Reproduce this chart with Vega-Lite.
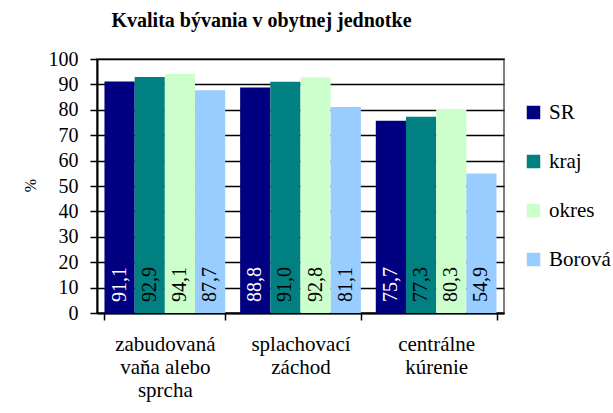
{
  "$schema": "https://vega.github.io/schema/vega-lite/v6.json",
  "autosize": "none",
  "width": 407,
  "height": 254,
  "padding": {"left": 97, "top": 59, "right": 109, "bottom": 100},
  "background": "white",
  "title": {
    "text": "Kvalita bývania v obytnej jednotke",
    "anchor": "middle",
    "dx": -39,
    "offset": 18,
    "font": "Liberation Serif",
    "fontSize": 20,
    "fontWeight": "bold",
    "color": "black"
  },
  "data": {
    "values": [
      {"kategoria": "zabudovaná vaňa alebo sprcha", "typ": "SR", "hodnota": 91.1},
      {"kategoria": "zabudovaná vaňa alebo sprcha", "typ": "kraj", "hodnota": 92.9},
      {"kategoria": "zabudovaná vaňa alebo sprcha", "typ": "okres", "hodnota": 94.1},
      {"kategoria": "zabudovaná vaňa alebo sprcha", "typ": "Borová", "hodnota": 87.7},
      {"kategoria": "splachovací záchod", "typ": "SR", "hodnota": 88.8},
      {"kategoria": "splachovací záchod", "typ": "kraj", "hodnota": 91.0},
      {"kategoria": "splachovací záchod", "typ": "okres", "hodnota": 92.8},
      {"kategoria": "splachovací záchod", "typ": "Borová", "hodnota": 81.1},
      {"kategoria": "centrálne kúrenie", "typ": "SR", "hodnota": 75.7},
      {"kategoria": "centrálne kúrenie", "typ": "kraj", "hodnota": 77.3},
      {"kategoria": "centrálne kúrenie", "typ": "okres", "hodnota": 80.3},
      {"kategoria": "centrálne kúrenie", "typ": "Borová", "hodnota": 54.9}
    ]
  },
  "encoding": {
    "x": {
      "field": "kategoria",
      "type": "nominal",
      "sort": null,
      "scale": {"paddingInner": 0.11, "paddingOuter": 0.055},
      "axis": {
        "title": null,
        "labelAngle": 0,
        "tickBand": "extent",
        "tickSize": 7,
        "tickWidth": 1.5,
        "tickColor": "black",
        "domainColor": "black",
        "domainWidth": 2,
        "labelPadding": 13,
        "labelFont": "Liberation Serif",
        "labelFontSize": 21,
        "labelColor": "black",
        "labelLineHeight": 23,
        "labelBaseline": "top",
        "labelOverlap": false,
        "labelLimit": 200,
        "grid": false,
        "labelExpr": "datum.label == 'zabudovaná vaňa alebo sprcha' ? ['zabudovaná', 'vaňa alebo', 'sprcha'] : datum.label == 'splachovací záchod' ? ['splachovací', 'záchod'] : datum.label == 'centrálne kúrenie' ? ['centrálne', 'kúrenie'] : ''"
      }
    },
    "xOffset": {
      "field": "typ",
      "type": "nominal",
      "sort": ["SR", "kraj", "okres", "Borová"],
      "scale": {"paddingInner": 0, "paddingOuter": 0}
    }
  },
  "layer": [
    {
      "mark": {"type": "bar"},
      "encoding": {
        "y": {
          "field": "hodnota",
          "type": "quantitative",
          "scale": {"domain": [0, 100], "nice": false},
          "axis": {
            "title": "%",
            "titleFont": "Liberation Serif",
            "titleFontSize": 16,
            "titleFontWeight": "normal",
            "titleColor": "black",
            "titleX": -67,
            "titleY": 126,
            "titleAngle": -90,
            "titleAlign": "center",
            "titleBaseline": "middle",
            "values": [0, 10, 20, 30, 40, 50, 60, 70, 80, 90, 100],
            "grid": true,
            "gridColor": "black",
            "gridWidth": 1.5,
            "gridOpacity": 1,
            "tickSize": 7,
            "tickWidth": 1.5,
            "tickColor": "black",
            "domainColor": "black",
            "domainWidth": 2,
            "labelOverlap": false,
            "labelPadding": 12,
            "labelFont": "Liberation Serif",
            "labelFontSize": 20,
            "labelColor": "black"
          }
        },
        "color": {
          "field": "typ",
          "type": "nominal",
          "sort": ["SR", "kraj", "okres", "Borová"],
          "scale": {
            "domain": ["SR", "kraj", "okres", "Borová"],
            "range": ["#000080", "#008080", "#CCFFCC", "#99CCFF"]
          },
          "legend": {
            "title": null,
            "orient": "none",
            "legendX": 426,
            "legendY": 43,
            "padding": 0,
            "symbolType": "square",
            "symbolSize": 182,
            "symbolStrokeWidth": 0,
            "symbolOpacity": 1,
            "labelFont": "Liberation Serif",
            "labelFontSize": 21,
            "labelColor": "black",
            "labelOffset": 5,
            "labelLimit": 200,
            "rowPadding": 27
          }
        }
      }
    },
    {
      "mark": {
        "type": "text",
        "angle": -90,
        "align": "left",
        "baseline": "middle",
        "dx": 11,
        "fontSize": 20,
        "font": "Liberation Serif"
      },
      "encoding": {
        "y": {
          "datum": 0,
          "type": "quantitative",
          "axis": {
            "title": "%",
            "titleFont": "Liberation Serif",
            "titleFontSize": 16,
            "titleFontWeight": "normal",
            "titleColor": "black",
            "titleX": -67,
            "titleY": 126,
            "titleAngle": -90,
            "titleAlign": "center",
            "titleBaseline": "middle",
            "values": [0, 10, 20, 30, 40, 50, 60, 70, 80, 90, 100],
            "grid": true,
            "gridColor": "black",
            "gridWidth": 1.5,
            "gridOpacity": 1,
            "tickSize": 7,
            "tickWidth": 1.5,
            "tickColor": "black",
            "domainColor": "black",
            "domainWidth": 2,
            "labelOverlap": false,
            "labelPadding": 12,
            "labelFont": "Liberation Serif",
            "labelFontSize": 20,
            "labelColor": "black"
          }
        },
        "text": {"field": "hodnota", "type": "quantitative", "format": ".1f"},
        "color": {
          "condition": {"test": "datum.typ == 'SR'", "value": "white"},
          "value": "black"
        }
      }
    }
  ],
  "config": {
    "font": "Liberation Serif",
    "locale": {
      "number": {"decimal": ",", "thousands": " ", "grouping": [3], "currency": ["", " €"]}
    },
    "view": {"stroke": "#808080", "strokeWidth": 2},
    "style": {
      "guide-label": {"font": "Liberation Serif", "fill": "black"},
      "guide-title": {"font": "Liberation Serif", "fill": "black"}
    }
  }
}
